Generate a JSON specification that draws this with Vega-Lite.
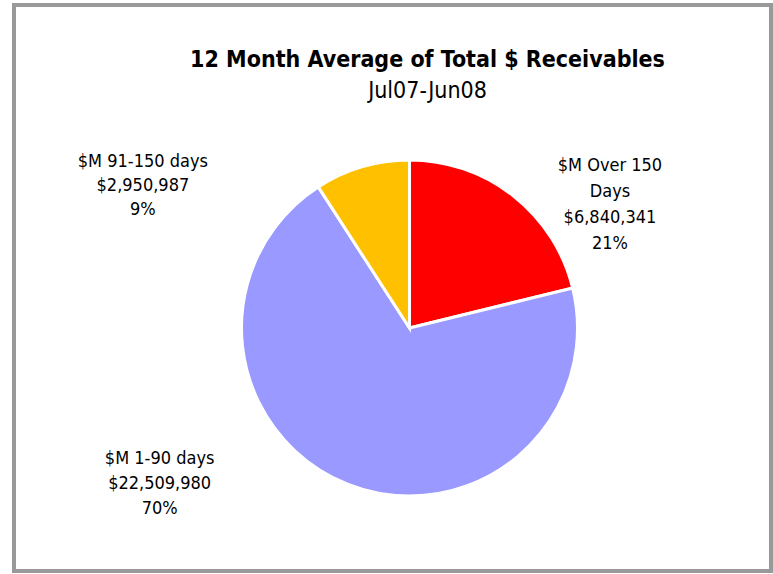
{
  "$schema": "https://vega.github.io/schema/vega-lite/v6.json",
  "autosize": "none",
  "width": 757,
  "height": 566,
  "padding": {"left": 14, "top": 5, "right": 2, "bottom": 3},
  "background": "white",
  "config": {
    "view": {"stroke": null},
    "font": "DejaVu Sans Condensed, Liberation Sans, sans-serif"
  },
  "title": {
    "text": "12 Month Average of Total $ Receivables",
    "subtitle": "Jul07-Jun08",
    "font": "DejaVu Sans Condensed, Liberation Sans, sans-serif",
    "fontSize": 23,
    "fontWeight": "bold",
    "color": "black",
    "subtitleFont": "DejaVu Sans Condensed, Liberation Sans, sans-serif",
    "subtitleFontSize": 23,
    "subtitleColor": "black",
    "subtitlePadding": 8,
    "anchor": "middle",
    "offset": -100,
    "dx": 35
  },
  "layer": [
    {
      "data": {"values": [{"frame": "border"}]},
      "mark": {"type": "rect", "x": 0, "x2": {"expr": "width"}, "y": 0, "y2": {"expr": "height"}, "fill": null, "stroke": "#999999", "strokeWidth": 4},
      "encoding": {}
    },
    {
      "data": {
        "values": [
          {"category": "$M Over 150 Days", "value": 6840341, "label": "$M Over 150\nDays\n$6,840,341\n21%"},
          {"category": "$M 1-90 days", "value": 22509980, "label": "$M 1-90 days\n$22,509,980\n70%"},
          {"category": "$M 91-150 days", "value": 2950987, "label": "$M 91-150 days\n$2,950,987\n9%"}
        ]
      },
      "transform": [{"window": [{"op": "row_number", "as": "idx"}]}],
      "encoding": {
        "theta": {"field": "value", "type": "quantitative", "stack": true},
        "order": {"field": "idx", "type": "quantitative", "sort": "ascending"}
      },
      "layer": [
        {
          "mark": {"type": "arc", "radius": 168, "stroke": "white", "strokeWidth": 3, "xOffset": 17, "yOffset": 40},
          "encoding": {
            "color": {
              "field": "category",
              "type": "nominal",
              "scale": {"domain": ["$M Over 150 Days", "$M 1-90 days", "$M 91-150 days"], "range": ["#FF0000", "#9999FF", "#FFC000"]},
              "legend": null
            }
          }
        },
        {
          "mark": {"type": "text", "radius": 200, "xOffset": 17, "yOffset": 40, "dx": 77, "dy": -5, "fontSize": 18, "lineHeight": 26, "lineBreak": "\n", "align": "center", "baseline": "middle", "color": "black"},
          "encoding": {"text": {"condition": {"test": "datum.category === '$M Over 150 Days'", "field": "label"}, "value": ""}}
        },
        {
          "mark": {"type": "text", "radius": 200, "xOffset": 17, "yOffset": 40, "dx": -176, "dy": -55, "fontSize": 18, "lineHeight": 25, "lineBreak": "\n", "align": "center", "baseline": "middle", "color": "black"},
          "encoding": {"text": {"condition": {"test": "datum.category === '$M 1-90 days'", "field": "label"}, "value": ""}}
        },
        {
          "mark": {"type": "text", "radius": 200, "xOffset": 17, "yOffset": 40, "dx": -210, "dy": 26, "fontSize": 18, "lineHeight": 24, "lineBreak": "\n", "align": "center", "baseline": "middle", "color": "black"},
          "encoding": {"text": {"condition": {"test": "datum.category === '$M 91-150 days'", "field": "label"}, "value": ""}}
        }
      ]
    }
  ]
}
